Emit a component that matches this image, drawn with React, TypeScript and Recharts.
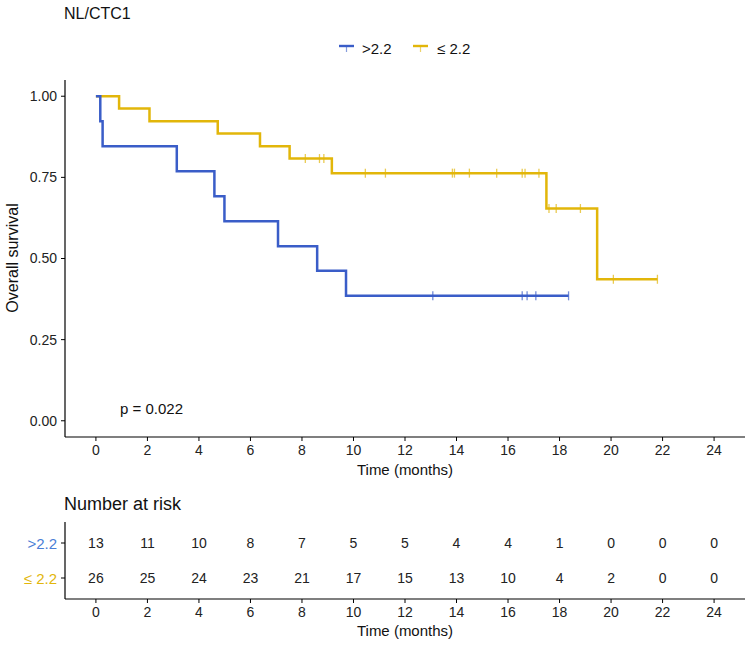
import React from 'react';
import { ComposedChart, Line, Scatter, XAxis, YAxis } from 'recharts';

const BLUE = '#3A5DC8';
const GOLD = '#E2B60A';
const BLUE_LABEL = '#4A7ED6';
const FONT = '"Liberation Sans", Arial, sans-serif';

const title = 'NL/CTC1';
const seriesNames = ['>2.2', '≤ 2.2'];
const pValueText = 'p = 0.022';

const timeTicks = [0, 2, 4, 6, 8, 10, 12, 14, 16, 18, 20, 22, 24];
const survTicks = [0, 0.25, 0.5, 0.75, 1];

// Kaplan–Meier step points (time in months, survival)
const highCurve = [
  { t: 0, s: 1 },
  { t: 0.17, s: 0.923 },
  { t: 0.26, s: 0.846 },
  { t: 3.14, s: 0.769 },
  { t: 4.6, s: 0.692 },
  { t: 4.99, s: 0.615 },
  { t: 7.07, s: 0.538 },
  { t: 8.59, s: 0.462 },
  { t: 9.71, s: 0.385 },
  { t: 18.35, s: 0.385 },
];

const lowCurve = [
  { t: 0, s: 1 },
  { t: 0.9, s: 0.962 },
  { t: 2.08, s: 0.923 },
  { t: 4.73, s: 0.885 },
  { t: 6.37, s: 0.846 },
  { t: 7.52, s: 0.808 },
  { t: 9.16, s: 0.763 },
  { t: 17.49, s: 0.654 },
  { t: 19.46, s: 0.436 },
  { t: 21.8, s: 0.436 },
];

// censored observations
const highCensor = [
  { t: 13.08, s: 0.385 },
  { t: 16.55, s: 0.385 },
  { t: 16.74, s: 0.385 },
  { t: 17.08, s: 0.385 },
  { t: 18.35, s: 0.385 },
];

const lowCensor = [
  { t: 8.13, s: 0.808 },
  { t: 8.68, s: 0.808 },
  { t: 8.85, s: 0.808 },
  { t: 10.46, s: 0.763 },
  { t: 11.24, s: 0.763 },
  { t: 13.84, s: 0.763 },
  { t: 13.92, s: 0.763 },
  { t: 14.5, s: 0.763 },
  { t: 15.56, s: 0.763 },
  { t: 16.55, s: 0.763 },
  { t: 16.66, s: 0.763 },
  { t: 17.2, s: 0.763 },
  { t: 17.59, s: 0.654 },
  { t: 17.87, s: 0.654 },
  { t: 18.81, s: 0.654 },
  { t: 20.09, s: 0.436 },
  { t: 21.8, s: 0.436 },
];

// Number at risk table
const riskTimes = [0, 2, 4, 6, 8, 10, 12, 14, 16, 18, 20, 22, 24];
const riskHigh = [13, 11, 10, 8, 7, 5, 5, 4, 4, 1, 0, 0, 0];
const riskLow = [26, 25, 24, 23, 21, 17, 15, 13, 10, 4, 2, 0, 0];

const riskRows = [
  ...riskTimes.map((t, i) => ({ t, row: 2, n: riskHigh[i] })),
  ...riskTimes.map((t, i) => ({ t, row: 1, n: riskLow[i] })),
];

const censorShape = (color: string) => (props: any) => {
  const { cx, cy } = props;
  if (cx == null || cy == null) return <g />;
  return (
    <line x1={cx} x2={cx} y1={cy - 4.5} y2={cy + 4.5} stroke={color} strokeWidth={1.3} opacity={0.7} />
  );
};

const riskShape = (props: any) => {
  const { cx, cy, payload } = props;
  if (cx == null || cy == null) return <g />;
  return (
    <text x={cx} y={cy} textAnchor="middle" dominantBaseline="central" fontSize={14} fill="#222" fontFamily={FONT}>
      {payload.n}
    </text>
  );
};

const RiskYTick = (props: any) => {
  const { x, y, payload } = props;
  const isHigh = payload.value === 2;
  return (
    <text x={x} y={y} textAnchor="end" dominantBaseline="central" fontSize={15} fill={isHigh ? BLUE_LABEL : GOLD} fontFamily={FONT}>
      {isHigh ? seriesNames[0] : seriesNames[1]}
    </text>
  );
};

const tickStyle = { fontSize: 14, fill: '#222', fontFamily: FONT };
const axisLineStyle = { stroke: '#000', strokeWidth: 1.2 };

export default function App() {
  return (
    <div style={{ position: 'absolute', left: 0, top: 0, width: 749, height: 648, background: '#fff', fontFamily: FONT }}>
      <div style={{ position: 'absolute', left: 0, top: 0 }}>
        <ComposedChart width={749} height={480} margin={{ top: 80, right: 4, bottom: 0, left: 0 }}>
          <XAxis
            dataKey="t"
            type="number"
            domain={[-1.2, 25.2]}
            ticks={timeTicks}
            interval={0}
            allowDataOverflow
            height={43}
            tick={tickStyle}
            tickSize={4}
            tickMargin={4}
            axisLine={axisLineStyle}
            tickLine={{ stroke: '#000' }}
            label={{ value: 'Time (months)', position: 'insideBottom', offset: 5, fill: '#111', fontSize: 15, fontFamily: FONT }}
          />
          <YAxis
            dataKey="s"
            type="number"
            domain={[-0.05, 1.05]}
            ticks={survTicks}
            interval={0}
            allowDataOverflow
            width={65}
            tick={tickStyle}
            tickSize={4}
            tickMargin={4}
            tickFormatter={(v: number) => v.toFixed(2)}
            axisLine={axisLineStyle}
            tickLine={{ stroke: '#000' }}
          />
          <Line data={lowCurve} dataKey="s" type="stepAfter" stroke={GOLD} strokeWidth={2.5} dot={false} isAnimationActive={false} />
          <Line data={highCurve} dataKey="s" type="stepAfter" stroke={BLUE} strokeWidth={2.5} dot={false} isAnimationActive={false} />
          <Scatter data={lowCensor} dataKey="s" shape={censorShape(GOLD)} isAnimationActive={false} />
          <Scatter data={highCensor} dataKey="s" shape={censorShape(BLUE)} isAnimationActive={false} />
        </ComposedChart>
      </div>

      <div style={{ position: 'absolute', left: 0, top: 490 }}>
        <ComposedChart width={749} height={158} margin={{ top: 32, right: 4, bottom: 0, left: 0 }} data={riskRows}>
          <XAxis
            dataKey="t"
            type="number"
            domain={[-1.2, 25.2]}
            ticks={timeTicks}
            interval={0}
            height={49}
            tick={tickStyle}
            tickSize={4}
            tickMargin={4}
            axisLine={axisLineStyle}
            tickLine={{ stroke: '#000' }}
            label={{ value: 'Time (months)', position: 'insideBottom', offset: 12, fill: '#111', fontSize: 15, fontFamily: FONT }}
          />
          <YAxis
            dataKey="row"
            type="number"
            domain={[0.4, 2.6]}
            ticks={[1, 2]}
            interval={0}
            width={65}
            tick={<RiskYTick />}
            tickSize={4}
            tickMargin={4}
            axisLine={axisLineStyle}
            tickLine={{ stroke: '#000' }}
          />
          <Scatter data={riskRows} dataKey="row" shape={riskShape} isAnimationActive={false} />
        </ComposedChart>
      </div>

      <svg width={749} height={648} style={{ position: 'absolute', left: 0, top: 0, pointerEvents: 'none' }} fontFamily={FONT}>
        <text x={64} y={19} fontSize={16} fill="#111">{title}</text>

        <g>
          <line x1={339} x2={354} y1={46} y2={46} stroke={BLUE} strokeWidth={2.4} />
          <line x1={346.5} x2={346.5} y1={46} y2={52} stroke={BLUE} strokeWidth={1.2} opacity={0.6} />
          <text x={362} y={54} fontSize={15} fill="#111">{seriesNames[0]}</text>
          <line x1={413} x2={428} y1={46} y2={46} stroke={GOLD} strokeWidth={2.4} />
          <line x1={420.5} x2={420.5} y1={46} y2={52} stroke={GOLD} strokeWidth={1.2} opacity={0.6} />
          <text x={437} y={54} fontSize={15} fill="#111">{seriesNames[1]}</text>
        </g>

        <text x={120} y={414} fontSize={15} fill="#111">{pValueText}</text>

        <text x={12} y={258} fontSize={16} fill="#111" textAnchor="middle" dominantBaseline="central" transform="rotate(-90 12 258)">
          Overall survival
        </text>

        <text x={64} y={510} fontSize={18} fill="#111">Number at risk</text>
      </svg>
    </div>
  );
}
